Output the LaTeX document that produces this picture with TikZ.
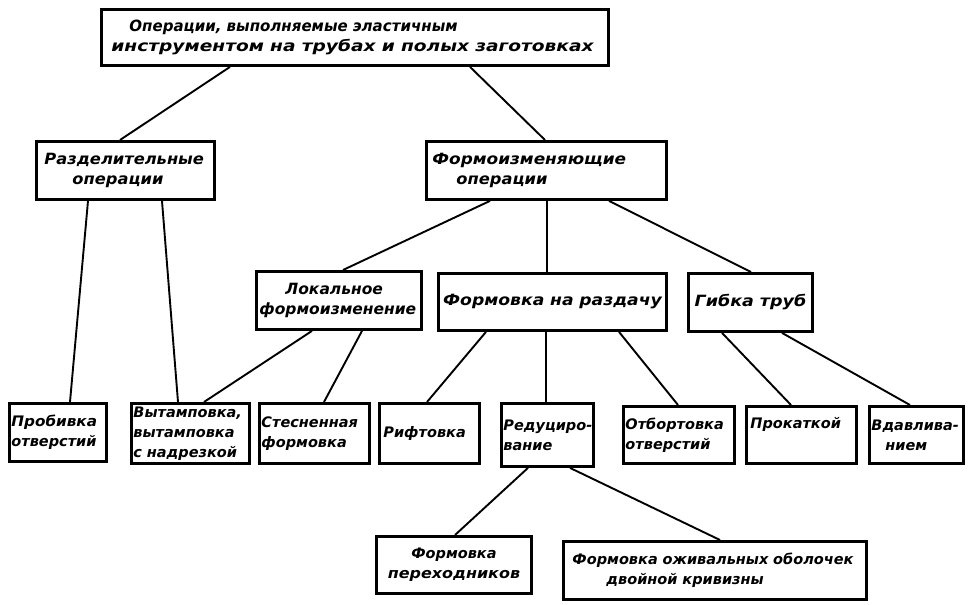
\documentclass[tikz,border=0pt]{standalone}
\usepackage{graphicx}
\usepackage{fontspec}
\setmainfont{DejaVu Sans}
\usetikzlibrary{calc}
\newcommand{\wide}[2]{\scalebox{#1}[1]{#2}}
\begin{document}
\begin{tikzpicture}[x=1pt,y=-1pt,
  box/.style={draw,line width=2.9pt,rectangle,inner sep=3pt,anchor=north west,align=left,
    font=\fontsize{15.5}{20}\selectfont\bfseries\itshape},
  small/.style={font=\fontsize{14.5}{20}\selectfont\bfseries\itshape,inner sep=2pt},
  link/.style={line width=1.9pt}]
\useasboundingbox[fill=white] (0,0) rectangle (972,605);
% level 0
\node[box,minimum width=507pt,minimum height=56pt,text width=499pt] (T) at (100,8)
  {\hspace*{24pt}\wide{0.97}{Операции, выполняемые эластичным}\\\hspace*{6pt}\wide{1.2}{инструментом на трубах и полых заготовках}};
% level 1
\node[box,minimum width=178pt,minimum height=58pt,text width=170pt] (R) at (35,140)
  {\hspace*{4pt}\wide{1.05}{Разделительные}\\\hspace*{32pt}\wide{1.05}{операции}};
\node[box,minimum width=240pt,minimum height=58pt,text width=232pt] (F) at (425,140)
  {\hspace*{2pt}\wide{1.09}{Формоизменяющие}\\\hspace*{26pt}\wide{1.05}{операции}};
% level 2
\node[box,minimum width=165pt,minimum height=58pt,text width=159pt] (L) at (255,270)
  {\hspace*{26pt}Локальное\\формоизменение};
\node[box,minimum width=228pt,minimum height=57pt,text width=220pt] (P) at (437,272)
  {\centering\wide{1.11}{Формовка на раздачу}\par};
\node[box,minimum width=124pt,minimum height=58pt,text width=118pt] (G) at (687,272)
  {\centering\wide{1.13}{Гибка труб}\par};
% level 3
\node[box,small,minimum width=97pt,minimum height=58pt,text width=93pt] (B1) at (8,402)
  {\wide{1.05}{Пробивка}\\отверстий};
\node[box,small,minimum width=118pt,minimum height=60pt,text width=114pt] (B2) at (130,402)
  {Вытамповка,\\вытамповка\\с надрезкой};
\node[box,small,minimum width=110pt,minimum height=60pt,text width=106pt] (B3) at (258,402)
  {Стесненная\\формовка};
\node[box,small,minimum width=100pt,minimum height=60pt,text width=96pt] (B4) at (378,402)
  {\hspace*{2pt}Рифтовка};
\node[box,small,minimum width=92pt,minimum height=63pt,text width=88pt] (B5) at (500,402)
  {\mbox{Редуциро-}\\вание};
\node[box,small,minimum width=111pt,minimum height=57pt,text width=107pt] (B6) at (622,405)
  {Отбортовка\\отверстий};
\node[box,small,minimum width=110pt,minimum height=57pt,text width=106pt] (B7) at (745,405)
  {\hspace*{2pt}Прокаткой\\[4pt]\mbox{}};
\node[box,small,minimum width=94pt,minimum height=57pt,text width=90pt] (B8) at (868,405)
  {\mbox{Вдавлива-}\\\hspace*{14pt}нием};
% level 4
\node[box,small,minimum width=155pt,minimum height=57pt,text width=151pt] (C1) at (375,535)
  {\centering Формовка\\\wide{1.1}{переходников}\par};
\node[box,small,minimum width=303pt,minimum height=58pt,text width=297pt] (C2) at (562,540)
  {\hspace*{6pt}Формовка оживальных оболочек\\\hspace*{40pt}двойной кривизны};
% connectors
\draw[link] ($(T.south west)+(130,0)$) -- ($(R.north west)+(85,0)$);
\draw[link] ($(T.south west)+(370,0)$) -- ($(F.north west)+(120,0)$);
\draw[link] ($(R.south west)+(53,0)$) -- ($(B1.north west)+(62,0)$);
\draw[link] ($(R.south west)+(127,0)$) -- ($(B2.north west)+(48,0)$);
\draw[link] ($(F.south west)+(65,0)$) -- ($(L.north west)+(88,0)$);
\draw[link] ($(F.south west)+(122,0)$) -- ($(P.north west)+(110,0)$);
\draw[link] ($(F.south west)+(184,0)$) -- ($(G.north west)+(64,0)$);
\draw[link] ($(L.south west)+(57,0)$) -- ($(B2.north west)+(74,0)$);
\draw[link] ($(L.south west)+(107,0)$) -- ($(B3.north west)+(66,0)$);
\draw[link] ($(P.south west)+(49,0)$) -- ($(B4.north west)+(49,0)$);
\draw[link] ($(P.south west)+(109,0)$) -- ($(B5.north west)+(46,0)$);
\draw[link] ($(P.south west)+(182,0)$) -- ($(B6.north west)+(56,0)$);
\draw[link] ($(G.south west)+(35,0)$) -- ($(B7.north west)+(46,0)$);
\draw[link] ($(G.south west)+(95,0)$) -- ($(B8.north west)+(42,0)$);
\draw[link] ($(B5.south west)+(28,0)$) -- ($(C1.north west)+(80,0)$);
\draw[link] ($(B5.south west)+(70,0)$) -- ($(C2.north west)+(158,0)$);
\end{tikzpicture}
\end{document}
